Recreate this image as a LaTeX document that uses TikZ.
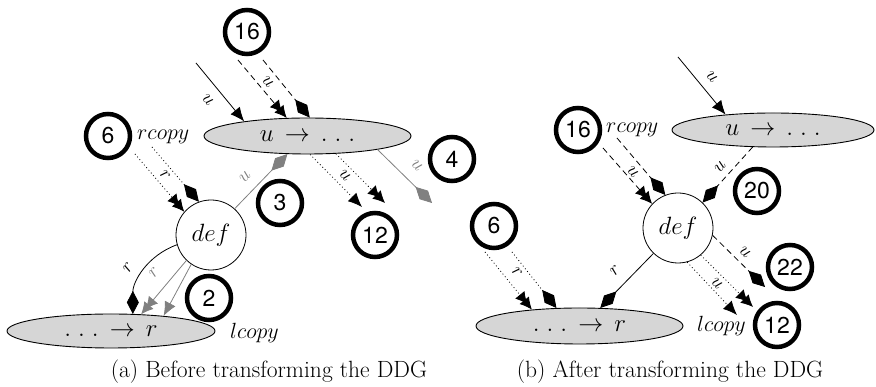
\RequirePackage{fix-cm}
\documentclass[tikz,border=0pt]{standalone}
\usepackage{fontspec}
\newfontfamily\numfont{TeX Gyre Heros}
\usetikzlibrary{arrows.meta,shapes.geometric}
\newcommand{\threedots}{{.}\mkern5mu{.}\mkern5mu{.}}
\newcommand{\wideto}{\mathrel{\mkern3mu\rightarrow\mkern3mu}}
\tikzset{
 num/.style={circle, draw, line width=4.5pt, minimum size=44pt, inner sep=0pt, font=\fontsize{23}{27}\selectfont\numfont},
 elli/.style={ellipse, draw, line width=0.9pt, fill=black!16, inner sep=0pt, font=\fontsize{25}{29}\selectfont},
 defc/.style={circle, draw, line width=0.8pt, minimum size=70pt, inner sep=0pt, font=\fontsize{25}{29}\selectfont},
 lab/.style={inner sep=0pt, font=\fontsize{19}{22}\selectfont},
 glab/.style={lab, text=black!50},
 copyl/.style={inner sep=0pt, font=\fontsize{22}{26}\selectfont},
 ln/.style={line width=0.8pt},
 dotl/.style={ln, dash pattern=on 0.9pt off 2.6pt},
 dashl/.style={ln, dash pattern=on 6pt off 4pt},
 tip1/.style={-{Latex[length=14pt,width=12pt]}},
 tip2/.style={-{Latex[length=12pt,width=12pt,sep=-5pt]Latex[length=12pt,width=12pt]}},
 dia/.style={-{Diamond[length=23pt,width=12pt]}},
 capt/.style={font=\fontsize{23.5}{28}\selectfont\addfontfeatures{LetterSpace=2}, inner sep=0pt},
}
\begin{document}
\begin{tikzpicture}[x=1pt,y=1pt]
\useasboundingbox (0,0) rectangle (876,387);
% ---------- (a) ----------
\node[elli, minimum width=207pt, minimum height=36pt] (Aell) at (307.5,251) {$u \wideto \threedots$};
\node[defc] (Adef) at (211,152) {$def$};
\node[elli, minimum width=208pt, minimum height=34pt] (Abot) at (111,56) {$\threedots \wideto r$};
\node[num] (A16) at (247,355) {16};
\node[num] (A6) at (108,251) {6};
\node[num] (A3) at (280,184) {3};
\node[num] (A12) at (375,152) {12};
\node[num] (A4) at (452,228) {4};
\node[num] (A2) at (209,89) {2};
\node[copyl, anchor=base west] (Arc) at (137,247) {$rcopy$};
\node[copyl, anchor=base west] (Alc) at (230,48) {$lcopy$};
\node[capt] (Acap) at (269,15) {(a) Before transforming the DDG};
\coordinate (a1) at (196,324);
\coordinate (a2a) at (238,327);
\coordinate (a2b) at (263,327);
\coordinate (a3a) at (135,233);
\coordinate (a3b) at (152,240);
\coordinate (a4a) at (362,180);
\coordinate (a4b) at (385,184);
\coordinate (a6) at (432,184);
\draw[ln,tip1] (a1) -- (Aell.167);
\draw[dashl,tip2] (a2a) -- (Aell.139);
\draw[dashl,dia] (a2b) -- (Aell.83);
\draw[dotl,tip2] (a3a) -- (Adef.139);
\draw[dotl,dia] (a3b) -- (Adef.110);
\draw[dotl,tip1] (Aell.-82) -- (a4a);
\draw[dotl,tip2] (Aell.-32) -- (a4b);
\draw[ln,black!50,dia] (Adef.48) -- (Aell.222);
\draw[ln,black!50,dia] (Aell.-11) -- (a6);
\draw[ln,dia] (Adef.196) to[out=200,in=90] (Abot.38);
\draw[ln,black!50,tip2] (Adef.226) -- (Abot.29);
\draw[ln,black!50,tip1] (Adef.236) -- (Abot.16);
\node[lab, rotate=-50] (la1) at (208,287) {$u$};
\node[lab, rotate=-50] (la2) at (268,305) {$u$};
\node[lab, rotate=-50] (la3) at (165,212) {$r$};
\node[lab, rotate=-46] (la4) at (345,212) {$u$};
\node[glab, rotate=45] (la5) at (245,210) {$u$};
\node[glab, rotate=-46] (la6) at (417,222) {$u$};
\node[lab, rotate=55] (la7) at (128,119) {$r$};
\node[glab, rotate=48] (la8) at (154,115) {$r$};
% ---------- (b) ----------
\node[elli, minimum width=202pt, minimum height=34pt] (Bell) at (773,257) {$u \wideto \threedots$};
\node[defc] (Bdef) at (678,159) {$def$};
\node[elli, minimum width=207pt, minimum height=36pt] (Bbot) at (579.5,61) {$\threedots \wideto r$};
\node[num] (B16) at (578,257) {16};
\node[num] (B20) at (757,196) {20};
\node[num] (B6) at (494,161) {6};
\node[num] (B22) at (790,120) {22};
\node[num] (B12) at (777,62) {12};
\node[copyl, anchor=base west] (Brc) at (606,254) {$rcopy$};
\node[copyl, anchor=base west] (Blc) at (697,55) {$lcopy$};
\node[capt] (Bcap) at (670,15) {(b) After transforming the DDG};
\coordinate (b1) at (678,330);
\coordinate (b2a) at (603,239);
\coordinate (b2b) at (617,249);
\coordinate (b4) at (765,100);
\coordinate (b5a) at (737,72);
\coordinate (b5b) at (753,80);
\coordinate (b7a) at (485,135);
\coordinate (b7b) at (512,135);
\draw[ln,tip1] (b1) -- (Bell.162);
\draw[dashl,tip2] (b2a) -- (Bdef.137);
\draw[dashl,dia] (b2b) -- (Bdef.111);
\draw[dashl,dia] (Bell.220) -- (Bdef.46);
\draw[dashl,dia] (Bdef.-12) -- (b4);
\draw[dotl,tip1] (Bdef.-75) -- (b5a);
\draw[dotl,tip2] (Bdef.-50) -- (b5b);
\draw[ln,dia] (Bdef.226) -- (Bbot.41);
\draw[dotl,tip2] (b7a) -- (Bbot.161);
\draw[dotl,dia] (b7b) -- (Bbot.142);
\node[lab, rotate=-50] (lb1) at (712,310) {$u$};
\node[lab, rotate=-50] (lb2) at (633,215) {$u$};
\node[lab, rotate=48] (lb3) at (720,220) {$u$};
\node[lab, rotate=-44] (lb4) at (745,135) {$u$};
\node[lab, rotate=-46] (lb5) at (717,104) {$u$};
\node[lab, rotate=45] (lb6) at (615,117) {$r$};
\node[lab, rotate=-50] (lb7) at (517,115) {$r$};
\end{tikzpicture}
\end{document}
